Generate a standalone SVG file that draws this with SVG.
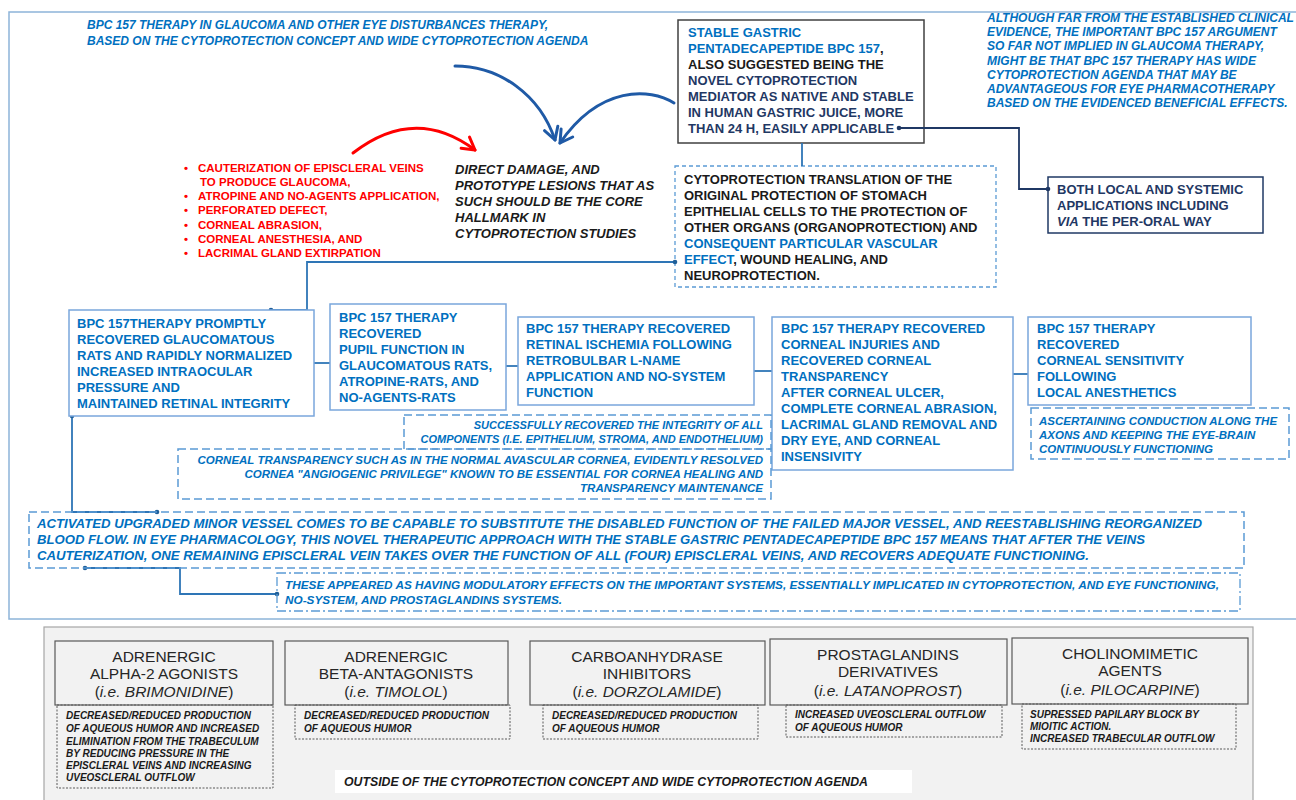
<svg xmlns="http://www.w3.org/2000/svg" width="1296" height="800" viewBox="0 0 1296 800">
<style>
.t{font-family:"Liberation Sans",Arial,Helvetica,sans-serif;font-weight:bold}
.r{font-family:"Liberation Sans",Arial,Helvetica,sans-serif;font-weight:normal}
.i{font-style:italic}
.blue{fill:#0070c0}
.navy{fill:#1f3864}
.blk{fill:#1a1a1a}
.red{fill:#ff0000}
.s13{font-size:13px}
.s12{font-size:12px}
.s115{font-size:11.5px}
.s11{font-size:11px}
.s10{font-size:10px}
.hdr{font-size:15.5px;fill:#262626;text-anchor:middle}
.box{fill:#ffffff;stroke:#7aa6dc;stroke-width:1.5}
.dbox{fill:none;stroke:#5b9bd5;stroke-width:1.5;stroke-dasharray:8 4}
.cbox{fill:none;stroke:#5b9bd5;stroke-width:1.3;stroke-dasharray:4 3}
.ddbox{fill:none;stroke:#5b9bd5;stroke-width:1.3;stroke-dasharray:9 3 2 3}
.gbox{fill:#f2f2f2;stroke:#595959;stroke-width:1.2}
.gdbox{fill:none;stroke:#595959;stroke-width:1;stroke-dasharray:2 1.5}
.con{fill:none;stroke:#2e75b6;stroke-width:1.8}
.dot{fill:#1f5f99}
.barr{fill:none;stroke:#1f5aa6;stroke-width:3;stroke-linecap:round;stroke-linejoin:round}
.rarr{fill:none;stroke:#ff0000;stroke-width:3;stroke-linecap:round;stroke-linejoin:round}
</style>
<rect width="1296" height="800" fill="#ffffff"/>
<!-- outer frame -->
<rect x="9" y="12" width="1300" height="607" fill="none" stroke="#8db4d9" stroke-width="1.5"/>

<g id="title">
<text class="t i s12 blue" x="87" y="29">BPC 157  THERAPY IN GLAUCOMA AND OTHER EYE DISTURBANCES THERAPY,</text>
<text class="t i s12 blue" x="87" y="45">BASED ON THE CYTOPROTECTION CONCEPT AND WIDE CYTOPROTECTION AGENDA</text>
</g>

<g id="note-right">
<text class="t i s12 blue" x="987" y="22">ALTHOUGH FAR FROM THE ESTABLISHED CLINICAL</text>
<text class="t i s12 blue" x="987" y="36">EVIDENCE, THE IMPORTANT BPC 157 ARGUMENT</text>
<text class="t i s12 blue" x="987" y="50">SO FAR NOT IMPLIED IN GLAUCOMA THERAPY,</text>
<text class="t i s12 blue" x="987" y="65">MIGHT BE THAT BPC 157 THERAPY HAS WIDE</text>
<text class="t i s12 blue" x="987" y="79">CYTOPROTECTION AGENDA THAT MAY BE</text>
<text class="t i s12 blue" x="987" y="93">ADVANTAGEOUS FOR EYE PHARMACOTHERAPY</text>
<text class="t i s12 blue" x="987" y="107">BASED ON THE EVIDENCED BENEFICIAL EFFECTS.</text>
</g>

<g id="bpc157">
<rect x="678" y="20" width="246" height="123" fill="#ffffff" stroke="#404040" stroke-width="1.5"/>
<text class="t s13 blue" x="688" y="37">STABLE GASTRIC</text>
<text class="t s13 blue" x="688" y="53">PENTADECAPEPTIDE BPC 157<tspan class="blk">,</tspan></text>
<text class="t s13 blk" x="688" y="69">ALSO SUGGESTED BEING THE</text>
<text class="t s13 navy" x="688" y="85">NOVEL CYTOPROTECTION</text>
<text class="t s13 navy" x="688" y="101">MEDIATOR AS NATIVE AND STABLE</text>
<text class="t s13 navy" x="688" y="117">IN HUMAN GASTRIC JUICE, MORE</text>
<text class="t s13 navy" x="688" y="133">THAN 24 H, EASILY APPLICABLE</text>
</g>

<g id="arrows">
<path class="barr" d="M455,66 C500,66 540,95 555,140"/>
<polyline class="barr" points="544.5,130.7 555,140 557.8,126.3"/>
<path class="barr" d="M674,103 C650,88 600,85 560,143"/>
<polyline class="barr" points="561.1,129 560,143 572.7,137"/>
<path class="rarr" d="M353,153 Q415,105 475,150"/>
<polyline class="rarr" points="469.5,137.1 475,150 461.1,148.3"/>
</g>

<g id="lesions">
<text class="t s115 red" x="184" y="172">•</text>
<text class="t s115 red" x="198" y="172">CAUTERIZATION OF EPISCLERAL VEINS</text>
<text class="t s115 red" x="200" y="186">TO PRODUCE GLAUCOMA,</text>
<text class="t s115 red" x="184" y="200">•</text>
<text class="t s115 red" x="198" y="200">ATROPINE AND NO-AGENTS APPLICATION,</text>
<text class="t s115 red" x="184" y="214">•</text>
<text class="t s115 red" x="198" y="214">PERFORATED DEFECT,</text>
<text class="t s115 red" x="184" y="229">•</text>
<text class="t s115 red" x="198" y="229">CORNEAL ABRASION,</text>
<text class="t s115 red" x="184" y="243">•</text>
<text class="t s115 red" x="198" y="243">CORNEAL ANESTHESIA, AND</text>
<text class="t s115 red" x="184" y="257">•</text>
<text class="t s115 red" x="198" y="257">LACRIMAL GLAND EXTIRPATION</text>
</g>

<g id="direct-damage">
<text class="t i s13 blk" x="455" y="174">DIRECT DAMAGE, AND</text>
<text class="t i s13 blk" x="455" y="190">PROTOTYPE LESIONS THAT AS</text>
<text class="t i s13 blk" x="455" y="206">SUCH SHOULD BE THE CORE</text>
<text class="t i s13 blk" x="455" y="222">HALLMARK IN</text>
<text class="t i s13 blk" x="455" y="238">CYTOPROTECTION STUDIES</text>
</g>

<g id="cytoprotection">
<rect class="cbox" x="675" y="166" width="321" height="121"/>
<text class="t s13 blk" x="684" y="184">CYTOPROTECTION  TRANSLATION OF THE</text>
<text class="t s13 blk" x="684" y="200">ORIGINAL PROTECTION  OF STOMACH</text>
<text class="t s13 blk" x="684" y="216">EPITHELIAL CELLS TO THE PROTECTION  OF</text>
<text class="t s13 blk" x="684" y="232">OTHER ORGANS (ORGANOPROTECTION) AND</text>
<text class="t s13 blue" x="684" y="248">CONSEQUENT PARTICULAR VASCULAR</text>
<text class="t s13 blk" x="684" y="264"><tspan class="blue">EFFECT</tspan>, WOUND HEALING, AND</text>
<text class="t s13 blk" x="684" y="280">NEUROPROTECTION.</text>
</g>

<g id="applications">
<rect x="1048" y="177" width="215" height="56" fill="#ffffff" stroke="#1f3864" stroke-width="1.5"/>
<text class="t s13 navy" x="1057" y="194">BOTH LOCAL AND SYSTEMIC</text>
<text class="t s13 navy" x="1057" y="210">APPLICATIONS INCLUDING</text>
<text class="t s13 navy" x="1057" y="226"><tspan class="i">VIA</tspan> THE PER-ORAL WAY</text>
</g>

<g id="connectors">
<path class="con" d="M802,143 V166"/>
<path class="con" d="M899,128 H1019 V189 H1048" style="stroke:#1f3864"/>
<circle class="dot" cx="899" cy="128" r="2.3" style="fill:#1f3864"/>
<circle class="dot" cx="1048" cy="189" r="2.3" style="fill:#1f3864"/>
<path class="con" d="M271,310 H307 V262 H675"/>
<circle class="dot" cx="271" cy="310" r="2.3"/>
<circle class="dot" cx="675" cy="262" r="2.3"/>
<path class="con" d="M314,363 H330"/>
<path class="con" d="M506,366 H518"/>
<path class="con" d="M754,371 H772"/>
<path class="con" d="M1013,374 H1028"/>
<path class="con" d="M72,416 V512 H157"/>
<circle class="dot" cx="72" cy="416" r="2.3"/>
<circle class="dot" cx="157" cy="512" r="2.3"/>
<path class="con" d="M85,568 H180 V594 H277"/>
<circle class="dot" cx="85" cy="568" r="2.3"/>
<circle class="dot" cx="277" cy="594" r="2.3"/>
</g>

<g id="glaucoma">
<rect class="box" x="69" y="310" width="245" height="106"/>
<text class="t s13 blue" x="77" y="328">BPC 157THERAPY PROMPTLY</text>
<text class="t s13 blue" x="77" y="344">RECOVERED GLAUCOMATOUS</text>
<text class="t s13 blue" x="77" y="360">RATS AND RAPIDLY NORMALIZED</text>
<text class="t s13 blue" x="77" y="376">INCREASED INTRAOCULAR</text>
<text class="t s13 blue" x="77" y="392">PRESSURE  AND</text>
<text class="t s13 blue" x="77" y="408">MAINTAINED RETINAL INTEGRITY</text>
</g>

<g id="pupil">
<rect class="box" x="330" y="304" width="176" height="106"/>
<text class="t s13 blue" x="339" y="322">BPC 157 THERAPY</text>
<text class="t s13 blue" x="339" y="338">RECOVERED</text>
<text class="t s13 blue" x="339" y="354">PUPIL FUNCTION  IN</text>
<text class="t s13 blue" x="339" y="370">GLAUCOMATOUS RATS,</text>
<text class="t s13 blue" x="339" y="386">ATROPINE-RATS, AND</text>
<text class="t s13 blue" x="339" y="402">NO-AGENTS-RATS</text>
</g>

<g id="retina">
<rect class="box" x="518" y="317" width="236" height="88"/>
<text class="t s13 blue" x="526" y="333">BPC 157 THERAPY RECOVERED</text>
<text class="t s13 blue" x="526" y="349">RETINAL ISCHEMIA FOLLOWING</text>
<text class="t s13 blue" x="526" y="365">RETROBULBAR L-NAME</text>
<text class="t s13 blue" x="526" y="381">APPLICATION AND NO-SYSTEM</text>
<text class="t s13 blue" x="526" y="397">FUNCTION</text>
</g>

<g id="cornea">
<rect class="box" x="772" y="317" width="241" height="153"/>
<text class="t s13 blue" x="781" y="333">BPC 157 THERAPY RECOVERED</text>
<text class="t s13 blue" x="781" y="349">CORNEAL INJURIES AND</text>
<text class="t s13 blue" x="781" y="365">RECOVERED CORNEAL</text>
<text class="t s13 blue" x="781" y="381">TRANSPARENCY</text>
<text class="t s13 blue" x="781" y="397">AFTER CORNEAL ULCER,</text>
<text class="t s13 blue" x="781" y="413">COMPLETE CORNEAL ABRASION,</text>
<text class="t s13 blue" x="781" y="429">LACRIMAL GLAND REMOVAL AND</text>
<text class="t s13 blue" x="781" y="445">DRY EYE, AND CORNEAL</text>
<text class="t s13 blue" x="781" y="461">INSENSIVITY</text>
</g>

<g id="sensitivity">
<rect class="box" x="1028" y="317" width="223" height="88"/>
<text class="t s13 blue" x="1037" y="333">BPC 157 THERAPY</text>
<text class="t s13 blue" x="1037" y="349">RECOVERED</text>
<text class="t s13 blue" x="1037" y="365">CORNEAL SENSITIVITY</text>
<text class="t s13 blue" x="1037" y="381">FOLLOWING</text>
<text class="t s13 blue" x="1037" y="397">LOCAL ANESTHETICS</text>
</g>

<g id="axons">
<rect class="dbox" x="1031" y="408" width="258" height="51"/>
<text class="t i s115 blue" x="1039" y="425">ASCERTAINING CONDUCTION ALONG THE</text>
<text class="t i s115 blue" x="1039" y="439">AXONS AND KEEPING THE EYE-BRAIN</text>
<text class="t i s115 blue" x="1039" y="453">CONTINUOUSLY FUNCTIONING</text>
</g>

<g id="integrity">
<rect class="dbox" x="404" y="415" width="367" height="34"/>
<text class="t i s11 blue" x="763" y="429" text-anchor="end">SUCCESSFULLY RECOVERED THE INTEGRITY OF ALL</text>
<text class="t i s11 blue" x="763" y="443" text-anchor="end">COMPONENTS (I.E. EPITHELIUM, STROMA, AND ENDOTHELIUM)</text>
</g>

<g id="transparency">
<rect class="dbox" x="178" y="449" width="593" height="50"/>
<text class="t i s115 blue" x="763" y="464" text-anchor="end">CORNEAL TRANSPARENCY SUCH AS IN THE NORMAL AVASCULAR CORNEA, EVIDENTLY RESOLVED</text>
<text class="t i s115 blue" x="763" y="478" text-anchor="end">CORNEA "ANGIOGENIC PRIVILEGE" KNOWN TO BE ESSENTIAL FOR CORNEA HEALING AND</text>
<text class="t i s115 blue" x="763" y="492" text-anchor="end">TRANSPARENCY MAINTENANCE</text>
</g>

<g id="vessel">
<rect class="dbox" x="29" y="512" width="1215" height="56"/>
<text class="t i s12 blue" x="37" y="528" textLength="1165" lengthAdjust="spacingAndGlyphs">ACTIVATED UPGRADED MINOR VESSEL COMES TO BE CAPABLE TO SUBSTITUTE THE DISABLED FUNCTION OF THE FAILED MAJOR VESSEL, AND REESTABLISHING REORGANIZED</text>
<text class="t i s12 blue" x="37" y="544" textLength="1108" lengthAdjust="spacingAndGlyphs">BLOOD FLOW. IN EYE PHARMACOLOGY, THIS NOVEL THERAPEUTIC APPROACH WITH THE STABLE GASTRIC PENTADECAPEPTIDE BPC 157 MEANS THAT AFTER THE VEINS</text>
<text class="t i s12 blue" x="37" y="560" textLength="1052" lengthAdjust="spacingAndGlyphs">CAUTERIZATION,  ONE REMAINING EPISCLERAL VEIN TAKES OVER THE FUNCTION OF ALL (FOUR) EPISCLERAL VEINS, AND RECOVERS ADEQUATE FUNCTIONING.</text>
</g>

<g id="systems">
<rect class="ddbox" x="277" y="573" width="963" height="38"/>
<text class="t i s11 blue" x="285" y="589" textLength="934" lengthAdjust="spacingAndGlyphs">THESE APPEARED AS HAVING MODULATORY EFFECTS ON THE IMPORTANT SYSTEMS, ESSENTIALLY IMPLICATED IN CYTOPROTECTION, AND EYE FUNCTIONING,</text>
<text class="t i s11 blue" x="285" y="604" textLength="277" lengthAdjust="spacingAndGlyphs">NO-SYSTEM, AND PROSTAGLANDINS SYSTEMS.</text>
</g>

<!-- bottom panel -->
<rect x="44" y="627" width="1209" height="185" fill="#f2f2f2" stroke="#a6a6a6" stroke-width="1.2"/>

<g id="alpha2">
<rect class="gbox" x="55" y="641" width="218" height="64"/>
<text class="r hdr" x="164" y="662">ADRENERGIC</text>
<text class="r hdr" x="164" y="679">ALPHA-2 AGONISTS</text>
<text class="r hdr" x="164" y="697">(<tspan class="i">i.e.</tspan> <tspan class="i">BRIMONIDINE</tspan>)</text>
<rect class="gdbox" x="57" y="705" width="216" height="83"/>
<text class="t i s10 blk" x="66" y="719">DECREASED/REDUCED PRODUCTION</text>
<text class="t i s10 blk" x="66" y="732">OF AQUEOUS HUMOR AND INCREASED</text>
<text class="t i s10 blk" x="66" y="745">ELIMINATION FROM THE TRABECULUM</text>
<text class="t i s10 blk" x="66" y="757">BY REDUCING PRESSURE IN THE</text>
<text class="t i s10 blk" x="66" y="769">EPISCLERAL VEINS AND INCREASING</text>
<text class="t i s10 blk" x="66" y="781">UVEOSCLERAL OUTFLOW</text>
</g>

<g id="beta">
<rect class="gbox" x="285" y="641" width="223" height="64"/>
<text class="r hdr" x="396" y="662">ADRENERGIC</text>
<text class="r hdr" x="396" y="679">BETA-ANTAGONISTS</text>
<text class="r hdr" x="396" y="697">(<tspan class="i">i.e.</tspan> <tspan class="i">TIMOLOL</tspan>)</text>
<rect class="gdbox" x="295" y="705" width="215" height="34"/>
<text class="t i s10 blk" x="304" y="719">DECREASED/REDUCED PRODUCTION</text>
<text class="t i s10 blk" x="304" y="732">OF AQUEOUS HUMOR</text>
</g>

<g id="carbo">
<rect class="gbox" x="530" y="641" width="235" height="64"/>
<text class="r hdr" x="647" y="662">CARBOANHYDRASE</text>
<text class="r hdr" x="647" y="679">INHIBITORS</text>
<text class="r hdr" x="647" y="697">(<tspan class="i">i.e.</tspan> <tspan class="i">DORZOLAMIDE</tspan>)</text>
<rect class="gdbox" x="543" y="705" width="215" height="34"/>
<text class="t i s10 blk" x="552" y="719">DECREASED/REDUCED PRODUCTION</text>
<text class="t i s10 blk" x="552" y="732">OF AQUEOUS HUMOR</text>
</g>

<g id="prosta">
<rect class="gbox" x="770" y="639" width="237" height="66"/>
<text class="r hdr" x="888" y="660">PROSTAGLANDINS</text>
<text class="r hdr" x="888" y="677">DERIVATIVES</text>
<text class="r hdr" x="888" y="696">(<tspan class="i">i.e.</tspan> <tspan class="i">LATANOPROST</tspan>)</text>
<rect class="gdbox" x="786" y="705" width="216" height="32"/>
<text class="t i s10 blk" x="795" y="718">INCREASED UVEOSCLERAL OUTFLOW</text>
<text class="t i s10 blk" x="795" y="731">OF AQUEOUS HUMOR</text>
</g>

<g id="cholino">
<rect class="gbox" x="1012" y="638" width="236" height="66"/>
<text class="r hdr" x="1130" y="659">CHOLINOMIMETIC</text>
<text class="r hdr" x="1130" y="676">AGENTS</text>
<text class="r hdr" x="1130" y="695">(<tspan class="i">i.e.</tspan> <tspan class="i">PILOCARPINE</tspan>)</text>
<rect class="gdbox" x="1022" y="704" width="214" height="45"/>
<text class="t i s10 blk" x="1030" y="718">SUPRESSED PAPILARY BLOCK BY</text>
<text class="t i s10 blk" x="1030" y="730">MIOITIC ACTION.</text>
<text class="t i s10 blk" x="1030" y="742">INCREASED TRABECULAR OUTFLOW</text>
</g>

<g id="outside">
<rect x="335" y="770" width="577" height="23" fill="#ffffff"/>
<text class="t i s12 blk" x="344" y="786" textLength="524" lengthAdjust="spacingAndGlyphs">OUTSIDE OF THE CYTOPROTECTION CONCEPT AND WIDE CYTOPROTECTION AGENDA</text>
</g>
</svg>
